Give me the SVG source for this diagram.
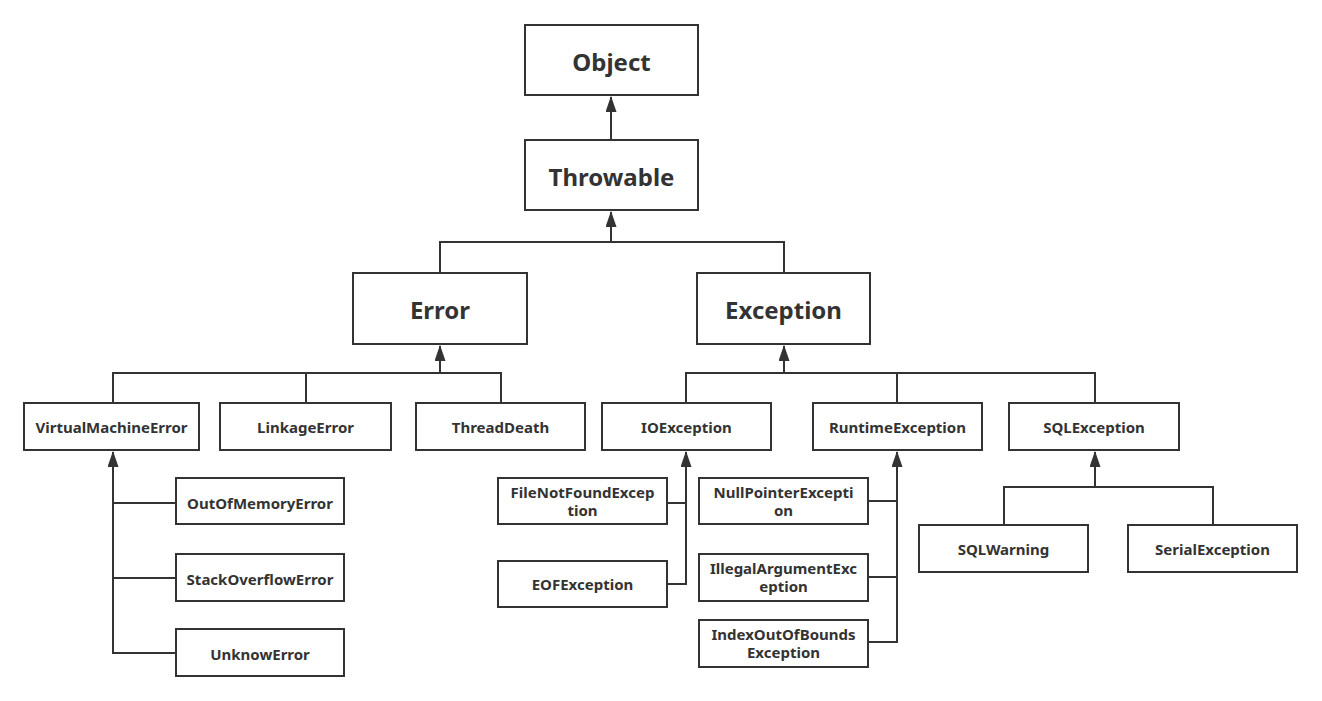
<svg xmlns="http://www.w3.org/2000/svg" width="1322" height="701" viewBox="0 0 1322 701">
<style>
.b{fill:#fff;stroke:#333;stroke-width:2}
.t{font-family:"Noto Sans","Open Sans",sans-serif;font-weight:bold;fill:#333;text-anchor:middle}
.L{font-size:24px}
.S{font-size:15px}
.c{fill:none;stroke:#333;stroke-width:2}
</style>
<defs>
<marker id="a" markerWidth="16" markerHeight="11" refX="15" refY="5.5" orient="auto" markerUnits="userSpaceOnUse" viewBox="0 0 16 11">
<path d="M0,0 L16,5.5 L0,11 z" fill="#333"/>
</marker>
</defs>
<rect width="1322" height="701" fill="#fff"/>
<g id="connectors">
<path class="c" d="M611,140 V97" marker-end="url(#a)"/>
<path class="c" d="M440,273 V242 H784 V273"/>
<path class="c" d="M611,242 V212" marker-end="url(#a)"/>
<path class="c" d="M113,403 V373 H501 V403 M306,373 V403"/>
<path class="c" d="M440,373 V346" marker-end="url(#a)"/>
<path class="c" d="M686,403 V373 H1095 V403 M897,373 V403"/>
<path class="c" d="M784,373 V346" marker-end="url(#a)"/>
<path class="c" d="M176,503 H113 M176,578 H113 M176,653 H113 V452" marker-end="url(#a)"/>
<path class="c" d="M667,503 H686 M667,584 H686 V452" marker-end="url(#a)"/>
<path class="c" d="M868,501 H897 M868,577 H897 M868,642 H897 V452" marker-end="url(#a)"/>
<path class="c" d="M1004,525 V487 H1213 V525"/>
<path class="c" d="M1095,487 V452" marker-end="url(#a)"/>
</g>
<g id="object"><rect class="b" x="525" y="25" width="173" height="70"/><text class="t L" x="611.5" y="71">Object</text></g>
<g id="throwable"><rect class="b" x="525" y="140" width="173" height="70"/><text class="t L" x="611.5" y="186">Throwable</text></g>
<g id="error"><rect class="b" x="353" y="273" width="174" height="71"/><text class="t L" x="440" y="319">Error</text></g>
<g id="exception"><rect class="b" x="697" y="273" width="173" height="71"/><text class="t L" x="783.5" y="319">Exception</text></g>
<g id="vme"><rect class="b" x="24" y="403" width="175" height="47"/><text class="t S" x="111.5" y="433">VirtualMachineError</text></g>
<g id="linkage"><rect class="b" x="220" y="403" width="171" height="47"/><text class="t S" x="305.5" y="433">LinkageError</text></g>
<g id="threaddeath"><rect class="b" x="416" y="403" width="169" height="47"/><text class="t S" x="500.5" y="433">ThreadDeath</text></g>
<g id="ioexception"><rect class="b" x="602" y="403" width="169" height="47"/><text class="t S" x="686.5" y="433">IOException</text></g>
<g id="runtime"><rect class="b" x="813" y="403" width="169" height="47"/><text class="t S" x="897.5" y="433">RuntimeException</text></g>
<g id="sqlexception"><rect class="b" x="1009" y="403" width="170" height="47"/><text class="t S" x="1094" y="433">SQLException</text></g>
<g id="oom"><rect class="b" x="176" y="478" width="168" height="46"/><text class="t S" x="260" y="509">OutOfMemoryError</text></g>
<g id="so"><rect class="b" x="176" y="554" width="168" height="47"/><text class="t S" x="260" y="585">StackOverflowError</text></g>
<g id="unknow"><rect class="b" x="176" y="629" width="168" height="47"/><text class="t S" x="260" y="660">UnknowError</text></g>
<g id="fnf"><rect class="b" x="498" y="478" width="169" height="46"/><text class="t S" x="582.5" y="498">FileNotFoundExcep</text><text class="t S" x="582.5" y="516">tion</text></g>
<g id="eof"><rect class="b" x="498" y="561" width="169" height="46"/><text class="t S" x="582.5" y="590">EOFException</text></g>
<g id="npe"><rect class="b" x="699" y="478" width="169" height="46"/><text class="t S" x="783.5" y="498">NullPointerExcepti</text><text class="t S" x="783.5" y="516">on</text></g>
<g id="iae"><rect class="b" x="699" y="554" width="169" height="47"/><text class="t S" x="783.5" y="574">IllegalArgumentExc</text><text class="t S" x="783.5" y="592">eption</text></g>
<g id="ioobe"><rect class="b" x="699" y="620" width="169" height="47"/><text class="t S" x="783.5" y="640">IndexOutOfBounds</text><text class="t S" x="783.5" y="658">Exception</text></g>
<g id="sqlwarning"><rect class="b" x="919" y="525" width="169" height="47"/><text class="t S" x="1003.5" y="555">SQLWarning</text></g>
<g id="serial"><rect class="b" x="1128" y="525" width="169" height="47"/><text class="t S" x="1212.5" y="555">SerialException</text></g>
</svg>
